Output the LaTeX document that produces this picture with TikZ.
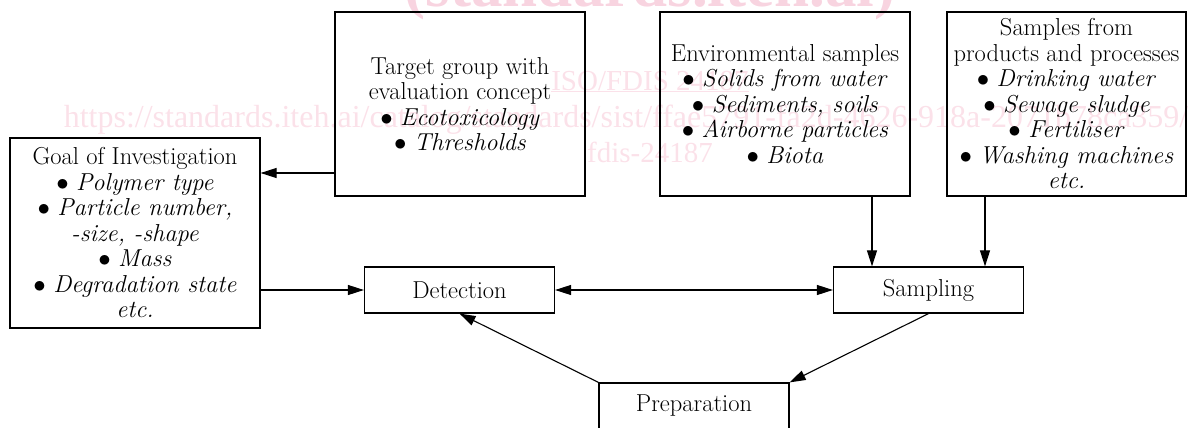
\documentclass[tikz,border=0pt]{standalone}
\usepackage{fontspec}
\usepackage{tikz}
\usetikzlibrary{positioning,arrows.meta}
\newfontfamily\wmfont{Liberation Serif}
\definecolor{wmpink}{RGB}{251,225,233}
\definecolor{wmdeep}{RGB}{248,212,224}
\tikzset{
  infobox/.style  = {draw, line width=1.2pt, inner sep=0pt, align=center,
                     font=\fontsize{24.5}{25.5}\selectfont},
  stepbox/.style  = {draw, line width=1.2pt, inner sep=0pt,
                     minimum width=190pt, minimum height=46pt,
                     font=\fontsize{24.5}{25.5}\selectfont},
  flow/.style     = {-{Triangle[length=16pt,width=10pt]}, line width=1.1pt},
  bothway/.style  = {{Triangle[length=16pt,width=10pt]}-{Triangle[length=16pt,width=10pt]},
                     line width=1.1pt},
  wmline/.style   = {anchor=base, inner sep=0pt, text=wmpink,
                     font=\wmfont\fontsize{29}{34}\selectfont}
}
\newcommand{\itm}[1]{$\bullet$~\textit{#1}}

\begin{document}
\begin{tikzpicture}[x=1pt, y=-1pt]
  \useasboundingbox (0,0) rectangle (1189,428);
  % Watermark
  \node[wmline, text=wmdeep, font=\wmfont\bfseries\fontsize{63}{70}\selectfont]
        (wm0) at (650,7) {(standards.iteh.ai)};
  \node[wmline] (wm1) at (650,90)  {\underline{ISO/FDIS 24187}};
  \node[wmline, font=\wmfont\fontsize{32}{34}\selectfont] (wm2) at (650,127)
        {https://standards.iteh.ai/catalog/standards/sist/ffae5791-fa2d-4626-918a-2071b78ca359/iso-};
  \node[wmline] (wm3) at (650,162) {fdis-24187};
  % Upper row
  \node[infobox, minimum width=250pt, minimum height=184pt] (target) at (460,104)
        {Target group with\\ evaluation concept\\ \itm{Ecotoxicology}\\ \itm{Thresholds}};
  \node[infobox, minimum width=250pt, minimum height=184pt] (env) at (785,104)
        {Environmental samples\\ \itm{Solids from water}\\ \itm{Sediments, soils}\\
         \itm{Airborne particles}\\ \itm{Biota}};
  \node[infobox, minimum width=239pt, minimum height=184pt] (prod) at (1066.5,104)
        {Samples from\\ products and processes\\ \itm{Drinking water}\\
         \itm{Sewage sludge}\\ \itm{Fertiliser}\\ \itm{Washing machines}\\ \textit{etc.}};
  \node[infobox, minimum width=250pt, minimum height=190pt] (goal) at (135,233)
        {Goal of Investigation\\ \itm{Polymer type}\\ \itm{Particle number,}\\
         \textit{-size, -shape}\\ \itm{Mass}\\ \itm{Degradation state}\\ \textit{etc.}};
  % Process steps
  \node[stepbox] (detect) at (459.5,290) {Detection};
  \node[stepbox] (sampl)  at (928.5,290) {Sampling};
  \node[stepbox] (prep)   at (694,406)   {Preparation};
  % Edges
  \coordinate (tg) at ([yshift=-69pt]target.west);
  \draw[flow] (tg) -- (tg -| goal.east);
  \draw[flow] (goal.east |- detect.west) -- (detect.west);
  \draw[bothway] (detect.east) -- (sampl.west);
  \coordinate (ea) at ([xshift=87pt]env.south);
  \coordinate (pa) at ([xshift=-81.5pt]prod.south);
  \draw[flow] (ea) -- (ea |- sampl.north);
  \draw[flow] (pa) -- (pa |- sampl.north);
  \draw[flow] (sampl.south) -- (prep.north east);
  \draw[flow] (prep.north west) -- (detect.south);
\end{tikzpicture}
\end{document}
